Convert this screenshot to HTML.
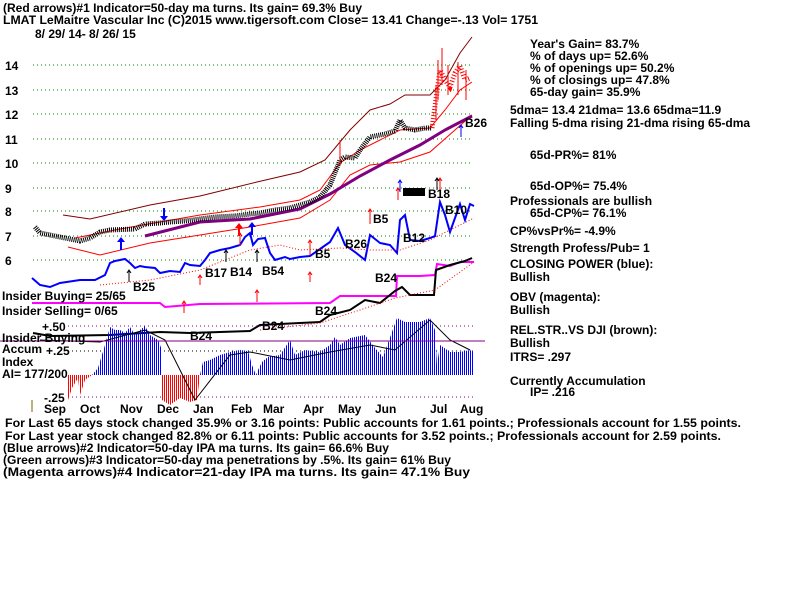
<!DOCTYPE html>
<html><head><meta charset="utf-8"><style>
html,body{margin:0;padding:0;background:#fff;width:800px;height:600px;overflow:hidden}
svg{display:block}
text{font-family:"Liberation Sans",sans-serif;font-size:12px;font-weight:bold;fill:#000}
</style></head><body>
<svg width="800" height="600" viewBox="0 0 800 600" xmlns="http://www.w3.org/2000/svg">
<defs>
<pattern id="pb" width="2" height="4" patternUnits="userSpaceOnUse"><rect x="0" y="0" width="1" height="4" fill="#0000ff"/></pattern>
<pattern id="pr" width="2" height="4" patternUnits="userSpaceOnUse"><rect x="0" y="0" width="1" height="4" fill="#ff0000"/></pattern>
</defs>
<text x="3" y="12" textLength="359" lengthAdjust="spacingAndGlyphs">(Red arrows)#1 Indicator=50-day ma turns. Its gain= 69.3% Buy</text>
<text x="3" y="24" textLength="535" lengthAdjust="spacingAndGlyphs">LMAT   LeMaitre Vascular Inc  (C)2015 www.tigersoft.com    Close=  13.41  Change=-.13 Vol= 1751</text>
<text x="35" y="38">8/ 29/ 14- 8/ 26/ 15</text>
<g stroke="#008000" stroke-dasharray="1,3" stroke-width="1">
<line x1="33" y1="65" x2="473" y2="65"/><line x1="33" y1="90" x2="473" y2="90"/>
<line x1="33" y1="114" x2="473" y2="114"/><line x1="33" y1="139" x2="473" y2="139"/>
<line x1="33" y1="163" x2="473" y2="163"/><line x1="33" y1="188" x2="473" y2="188"/>
<line x1="33" y1="211" x2="473" y2="211"/><line x1="33" y1="236" x2="473" y2="236"/>
<line x1="33" y1="260" x2="473" y2="260"/>
</g>
<g font-size="14"><text x="5" y="70">14</text><text x="5" y="95">13</text><text x="5" y="119">12</text><text x="5" y="144">11</text><text x="5" y="168">10</text><text x="5" y="193">9</text><text x="5" y="216">8</text><text x="5" y="241">7</text><text x="5" y="265">6</text></g>
<polyline fill="none" stroke="#800000" stroke-width="1" points="63,215 90,219 150,205 200,196 257,182 300,172 325,160 350,130 370,110 390,104 405,95 430,95 445,80 460,53 472,37"/>
<polyline fill="none" stroke="#ff0000" stroke-width="1" points="68,247 100,255 150,243 200,235 250,227 300,218 330,200 350,175 370,165 400,162 430,152 455,130 472,115"/>
<polyline fill="none" stroke="#ff0000" stroke-width="1" points="75,238 120,229 200,215 260,207 300,200 320,190 340,163 360,150 380,140 400,130 430,128 445,110 460,90 472,82"/>
<polyline fill="none" stroke="#800080" stroke-width="3" points="145,236 200,222 250,219 300,209 330,194 360,176 390,160 420,145 445,130 472,116"/>
<polyline fill="none" stroke="#000" stroke-width="5" stroke-dasharray="1,1" points="35,227 40,233 55,236 70,239 80,241 90,238 100,232 110,230 135,229 145,224 160,223 170,222 185,221 200,219 215,217 235,216 250,214 260,213 275,210 290,208 300,205 310,202 320,197 330,185 340,160 345,157 355,158 360,150 370,137 385,134 395,131 400,120 405,128 415,130 425,128 432,128"/>
<polyline fill="none" stroke="#ff0000" stroke-width="5" stroke-dasharray="1,2" points="432,128 437,92 440,70 445,80 450,87 455,73 460,66 465,80 470,78"/>
<g stroke="#ff0000" stroke-width="1"><line x1="438" y1="60" x2="438" y2="100"/><line x1="442" y1="48" x2="442" y2="85"/><line x1="448" y1="65" x2="448" y2="95"/><line x1="458" y1="62" x2="458" y2="95"/><line x1="466" y1="70" x2="466" y2="100"/><line x1="436" y1="85" x2="436" y2="120"/><line x1="340" y1="140" x2="340" y2="165"/></g>
<polyline fill="none" stroke="#0000ff" stroke-width="2" points="32,278 40,285 50,287 60,283 80,280 95,280 105,275 110,263 115,261 125,259 130,263 135,268 140,266 145,267 155,268 160,273 170,271 180,272 185,263 190,265 200,266 205,260 210,253 220,250 230,248 240,245 245,237 250,233 253,245 258,239 265,238 270,253 275,260 285,257 290,259 300,257 310,256 320,249 330,242 338,228 345,245 355,252 365,260 370,235 380,243 390,245 397,253 400,220 405,215 410,240 420,241 430,238 435,236 440,202 445,215 450,232 455,218 460,204 465,220 470,204 474,206"/>
<polyline fill="none" stroke="#ff0000" stroke-dasharray="1,2" points="100,285 150,280 200,270 250,250 280,245 300,250 340,248 370,250 400,250 430,240 450,230 474,218"/>
<polyline fill="none" stroke="#ff00ff" stroke-width="2" points="32,303 160,303 165,307 200,304 330,303 340,296 370,296 396,296 397,276 420,276 435,275 437,264 450,266 460,262 474,262"/>
<polyline fill="none" stroke="#000" stroke-width="2" points="33,333 50,336 110,335 160,332 190,333 250,331 260,325 300,323 320,322 330,315 350,310 365,300 380,303 395,291 402,287 410,295 420,295 434,295 436,270 450,265 465,261 472,258"/>
<polyline fill="none" stroke="#ff0000" stroke-dasharray="1,2" points="260,330 320,323 360,310 395,298 435,290 474,262"/>
<g font-size="13"><text x="428" y="198">B18</text><text x="373" y="223">B5</text><text x="345" y="248">B26</text><text x="315" y="258">B5</text><text x="262" y="275">B54</text><text x="230" y="276">B14</text><text x="205" y="277">B17</text><text x="133" y="291">B25</text><text x="465" y="127">B26</text></g>
<text x="403" y="242" font-size="22">B12</text>
<text x="445" y="214" font-size="16" font-weight="normal">B10</text>
<text x="375" y="282" font-size="16" font-weight="normal">B24</text>
<text x="315" y="315" font-size="16" font-weight="normal">B24</text>
<text x="262" y="330" font-size="16" font-weight="normal">B24</text>
<text x="190" y="340" font-size="16" font-weight="normal">B24</text>
<rect x="403" y="188" width="22" height="8" fill="#000"/>
<g stroke="#ff0000" fill="none"><path d="M370 224v-15m-2 3l2-3 2 3"/><path d="M310 255v-15m-2 3l2-3 2 3"/><path d="M240 246v-13m-2 3l2-3 2 3"/><path d="M200 285v-10m-2 3l2-3 2 3"/><path d="M184 313v-12m-2 3l2-3 2 3"/><path d="M257 302v-12m-2 3l2-3 2 3"/><path d="M310 282v-10m-2 3l2-3 2 3"/><path d="M398 200v-12m-2 3l2-3 2 3"/><path d="M440 190v-12m-2 3l2-3 2 3"/></g>
<g stroke="#000" fill="none"><path d="M437 190v-12m-2 3l2-3 2 3"/><path d="M257 262v-12m-2 3l2-3 2 3"/><path d="M226 262v-12m-2 3l2-3 2 3"/><path d="M129 282v-12m-2 3l2-3 2 3"/></g>
<g stroke="#0000ff" fill="none"><path d="M461 137v-12m-2 3l2-3 2 3"/><path d="M400 192v-12m-2 3l2-3 2 3"/></g>
<g fill="#0000ff"><path d="M120 250v-8h-3l4-5 4 5h-3v8z"/><path d="M163 208v8h-3l4 5 4-5h-3v-8z"/><path d="M251 235v-8h-3l4-5 4 5h-3v8z"/></g>
<path d="M238 236v-8h-3l4-5 4 5h-3v8z" fill="#ff0000"/>
<text x="2" y="300">Insider Buying= 25/65</text>
<text x="2" y="315">Insider Selling= 0/65</text>
<g stroke="#800080" stroke-dasharray="1,3"><line x1="68" y1="326" x2="473" y2="326"/><line x1="68" y1="397" x2="473" y2="397"/></g>
<g stroke="#000" stroke-dasharray="1,3"><line x1="68" y1="351" x2="473" y2="351"/></g>
<polygon fill="url(#pb)" points="92,375 98,368 105,345 110,327 115,330 120,330 125,333 130,327 135,335 140,330 145,326 150,335 158,340 162,350 162,375"/>
<polygon fill="url(#pr)" points="68,375 68,400 72,388 78,378 80,395 85,380 92,375"/>
<polygon fill="url(#pr)" points="162,375 162,400 170,405 180,398 190,402 197,400 200,375"/>
<polygon fill="url(#pb)" points="200,375 203,362 210,360 220,355 230,352 240,350 248,351 252,365 256,375 258,370 262,362 268,357 280,355 290,340 295,355 305,350 320,352 330,345 335,337 340,345 350,338 365,335 375,348 383,357 397,318 405,322 420,322 430,318 435,330 437,365 440,345 450,352 460,352 470,350 473,352 473,375"/>
<polyline fill="none" stroke="#000" stroke-width="1" points="40,340 100,342 145,330 165,340 195,400 230,355 250,352 290,360 330,352 370,345 395,350 430,320 450,340 470,350"/>
<line x1="0" y1="341" x2="485" y2="341" stroke="#800080" stroke-width="1"/>
<text x="42" y="331">+.50</text>
<text x="2" y="342">Insider Buying</text>
<text x="2" y="353">Accum</text>
<text x="46" y="355">+.25</text>
<text x="2" y="366">Index</text>
<text x="2" y="378">AI= 177/200</text>
<text x="44" y="402">-.25</text>
<line x1="32" y1="400" x2="32" y2="412" stroke="#806000"/>
<g font-size="13"><text x="44" y="413">Sep</text><text x="80" y="413">Oct</text><text x="120" y="413">Nov</text><text x="157" y="413">Dec</text><text x="193" y="413">Jan</text><text x="231" y="413">Feb</text><text x="263" y="413">Mar</text><text x="303" y="413">Apr</text><text x="338" y="413">May</text><text x="375" y="413">Jun</text><text x="430" y="413">Jul</text><text x="460" y="413">Aug</text></g>
<text x="530" y="48">Year's Gain= 83.7%</text>
<text x="530" y="60">% of days up= 52.6%</text>
<text x="530" y="72">% of openings up= 50.2%</text>
<text x="530" y="84">% of closings up= 47.8%</text>
<text x="530" y="96">65-day gain= 35.9%</text>
<text x="510" y="114">5dma= 13.4 21dma= 13.6 65dma=11.9</text>
<text x="510" y="127">Falling 5-dma  rising 21-dma  rising 65-dma</text>
<text x="530" y="159">65d-PR%= 81%</text>
<text x="530" y="190">65d-OP%= 75.4%</text>
<text x="510" y="205">Professionals are bullish</text>
<text x="530" y="217">65d-CP%= 76.1%</text>
<text x="510" y="235">CP%vsPr%= -4.9%</text>
<text x="510" y="252">Strength Profess/Pub= 1</text>
<text x="510" y="268">CLOSING POWER (blue):</text>
<text x="510" y="281">Bullish</text>
<text x="510" y="301">OBV (magenta):</text>
<text x="510" y="314">Bullish</text>
<text x="510" y="334">REL.STR..VS DJI (brown):</text>
<text x="510" y="347">Bullish</text>
<text x="510" y="361">ITRS= .297</text>
<text x="510" y="385">Currently Accumulation</text>
<text x="530" y="396">IP=  .216</text>
<text x="5" y="427" textLength="736" lengthAdjust="spacingAndGlyphs">For Last 65 days stock changed  35.9% or  3.16 points:  Public accounts for  1.61 points.;  Professionals account for  1.55 points.</text>
<text x="5" y="440" textLength="716" lengthAdjust="spacingAndGlyphs">For Last year stock changed  82.8% or  6.11 points:  Public accounts for  3.52 points.;  Professionals account for  2.59 points.</text>
<text x="3" y="452" textLength="386" lengthAdjust="spacingAndGlyphs">(Blue arrows)#2 Indicator=50-day IPA ma turns. Its gain= 66.6% Buy</text>
<text x="3" y="464" textLength="448" lengthAdjust="spacingAndGlyphs">(Green arrows)#3 Indicator=50-day ma penetrations by .5%. Its gain= 61% Buy</text>
<text x="3" y="476" textLength="467" lengthAdjust="spacingAndGlyphs">(Magenta arrows)#4 Indicator=21-day IPA ma turns. Its gain= 47.1% Buy</text>
</svg>
</body></html>
